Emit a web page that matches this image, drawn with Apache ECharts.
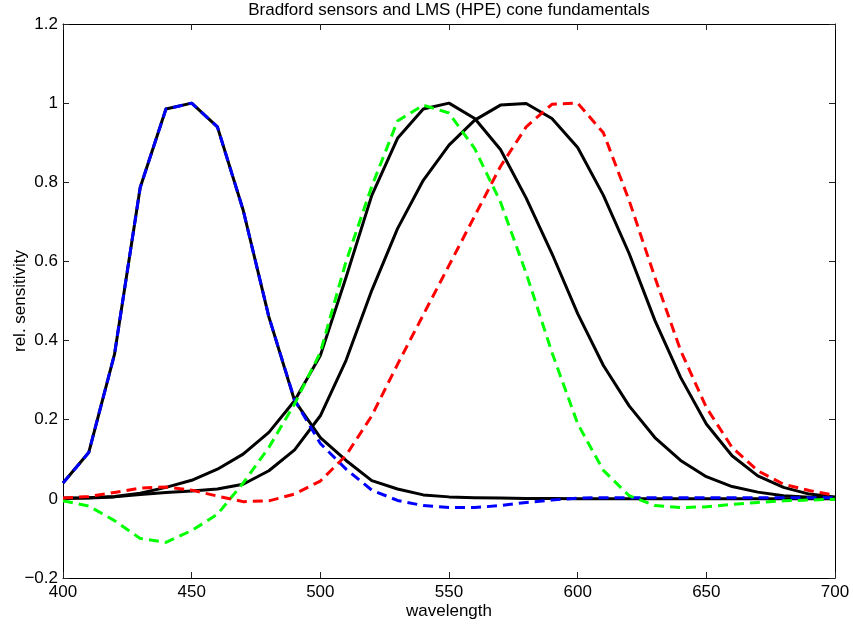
<!DOCTYPE html>
<html>
<head>
<meta charset="utf-8">
<script src="https://cdn.jsdelivr.net/npm/echarts@6/dist/echarts.min.js"></script>
<style>html,body{margin:0;padding:0;background:#fff}#c{width:853px;height:630px}</style>
</head>
<body>
<div id="c"></div>
<script>
const wavelength = [400,410,420,430,440,450,460,470,480,490,500,510,520,530,540,550,560,570,580,590,600,610,620,630,640,650,660,670,680,690,700];
const bradfordS = [0.04,0.117,0.365,0.787,0.985,1.0,0.94,0.73,0.46,0.248,0.155,0.097,0.046,0.025,0.01,0.005,0.003,0.002,0.001,0.001,0,0,0,0,0,0,0,0,0,0,0];
const bradfordM = [0.002,0.003,0.006,0.014,0.029,0.047,0.075,0.113,0.168,0.248,0.362,0.56,0.767,0.911,0.985,1.0,0.961,0.883,0.76,0.62,0.468,0.337,0.235,0.155,0.097,0.056,0.031,0.017,0.008,0.004,0.002];
const bradfordL = [0.001,0.002,0.005,0.011,0.016,0.02,0.025,0.037,0.071,0.124,0.21,0.35,0.527,0.683,0.805,0.894,0.957,0.995,0.999,0.961,0.888,0.767,0.62,0.451,0.307,0.189,0.109,0.058,0.029,0.012,0.005];
const hpeL = [0.002,0.006,0.016,0.027,0.03,0.022,0.007,-0.007,-0.005,0.012,0.045,0.11,0.21,0.34,0.465,0.59,0.715,0.84,0.94,0.997,1.0,0.925,0.754,0.56,0.375,0.231,0.13,0.071,0.037,0.021,0.009];
const hpeM = [-0.005,-0.018,-0.055,-0.1,-0.11,-0.08,-0.039,0.04,0.13,0.24,0.37,0.6,0.79,0.955,0.995,0.975,0.885,0.75,0.57,0.37,0.19,0.072,0.008,-0.017,-0.022,-0.02,-0.014,-0.009,-0.005,-0.003,-0.001];
const hpeS = [0.04,0.117,0.365,0.787,0.985,1.0,0.94,0.73,0.46,0.25,0.14,0.075,0.022,-0.004,-0.017,-0.022,-0.022,-0.017,-0.009,-0.003,0.002,0.003,0.003,0.003,0.003,0.003,0.003,0.003,0.003,0.003,0.003];
const xTicks = [400,450,500,550,600,650,700];
const yTicks = [-0.2,0,0.2,0.4,0.6,0.8,1,1.2];
const titleText = 'Bradford sensors and LMS (HPE) cone fundamentals';
const xName = 'wavelength';
const yName = 'rel. sensitivity';

const FONT = '"Liberation Sans", Arial, Helvetica, sans-serif';
const FS = 17;
const pairs = v => wavelength.map((w, i) => [w, v[i]]);
const fmtY = v => { const r = Math.round(v * 10) / 10; return (r < 0 ? '\u2212' : '') + String(Math.abs(r)); };

const chart = echarts.init(document.getElementById('c'), null, {renderer: 'canvas'});
const axisLine = {show: true, onZero: false, lineStyle: {color: '#000', width: 1}};
const tick = {show: true, inside: true, length: 6, lineStyle: {color: '#222', width: 1}};
const solid = (name, v) => ({name, type: 'line', data: pairs(v), showSymbol: false, symbol: 'none', animation: false,
  lineStyle: {color: '#000', width: 3, type: 'solid', join: 'round'}, z: 2});
const dashed = (name, v, c) => ({name, type: 'line', data: pairs(v), showSymbol: false, symbol: 'none', animation: false,
  lineStyle: {color: c, width: 3, type: [10, 6], join: 'round'}, z: 3});
const textStyle = {color: '#000', fontSize: FS, fontFamily: FONT};

chart.setOption({
  animation: false,
  backgroundColor: '#fff',
  grid: {left: 63, right: 18, top: 24, bottom: 52, containLabel: false, outerBoundsMode: 'none'},
  xAxis: [
    {type: 'value', min: xTicks[0], max: xTicks[xTicks.length - 1], interval: 50, position: 'bottom',
      axisLine, axisTick: tick, splitLine: {show: false},
      axisLabel: Object.assign({margin: 6}, textStyle),
      name: xName, nameLocation: 'middle', nameGap: 25, nameMoveOverlap: false, nameTextStyle: textStyle},
    {type: 'value', min: xTicks[0], max: xTicks[xTicks.length - 1], interval: 50, position: 'top',
      axisLine, axisTick: tick, splitLine: {show: false}, axisLabel: {show: false},
      name: titleText, nameLocation: 'middle', nameGap: 5, nameMoveOverlap: false, nameTextStyle: textStyle}
  ],
  yAxis: [
    {type: 'value', min: yTicks[0], max: yTicks[yTicks.length - 1], interval: 0.2, position: 'left',
      axisLine, axisTick: tick, splitLine: {show: false},
      axisLabel: Object.assign({margin: 5, formatter: fmtY}, textStyle),
      name: yName, nameLocation: 'middle', nameGap: 34, nameRotate: 90, nameMoveOverlap: false, nameTextStyle: textStyle},
    {type: 'value', min: yTicks[0], max: yTicks[yTicks.length - 1], interval: 0.2, position: 'right',
      axisLine, axisTick: tick, splitLine: {show: false}, axisLabel: {show: false}}
  ],
  series: [
    solid('Bradford S', bradfordS),
    solid('Bradford M', bradfordM),
    solid('Bradford L', bradfordL),
    dashed('HPE S', hpeS, '#0000ff'),
    dashed('HPE M', hpeM, '#00ff00'),
    dashed('HPE L', hpeL, '#ff0000')
  ]
});
</script>
</body>
</html>
